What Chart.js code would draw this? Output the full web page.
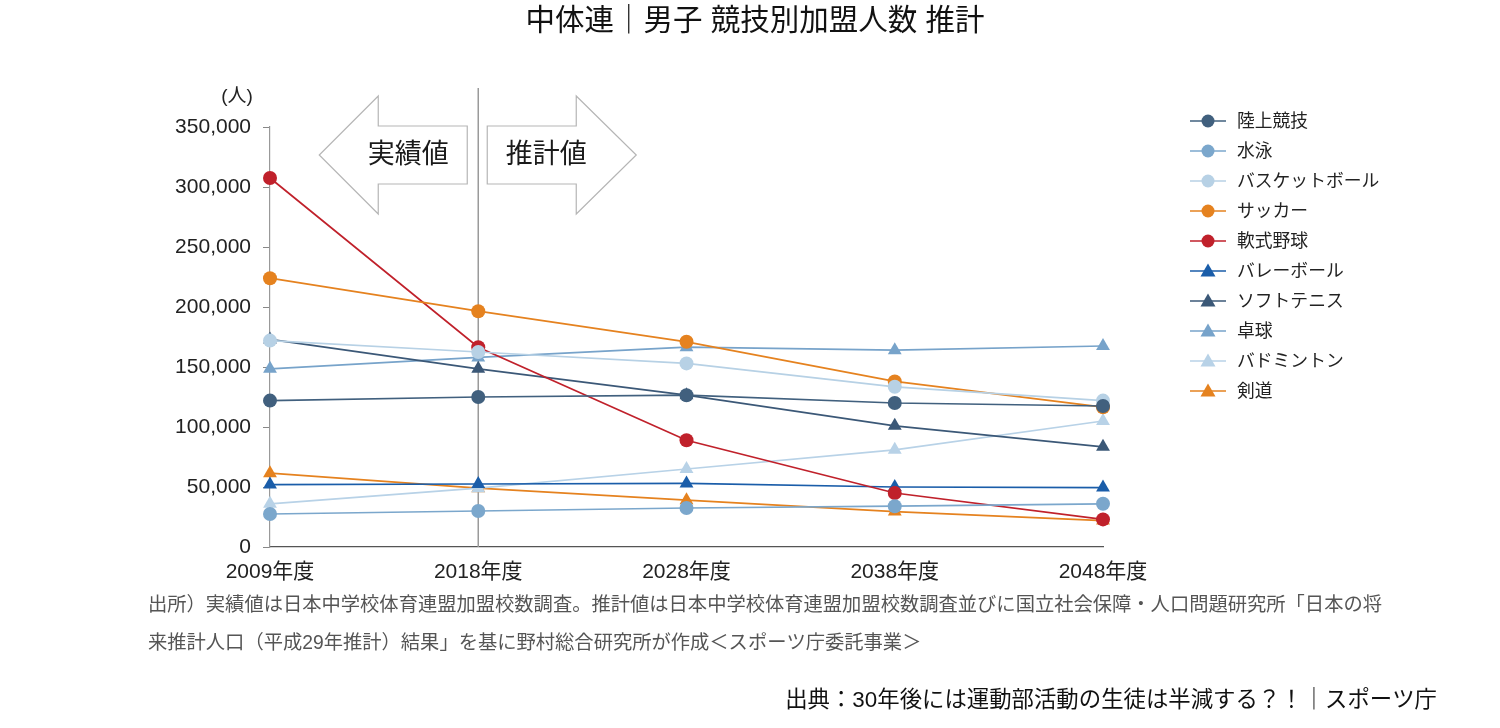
<!DOCTYPE html>
<html>
<head>
<meta charset="utf-8">
<script src="https://cdn.jsdelivr.net/npm/chart.js@4.4.1/dist/chart.umd.min.js"></script>
<style>
html,body{margin:0;padding:0;background:#fff;}
#wrap{width:1500px;height:728px;position:relative;}
</style>
</head>
<body>
<div id="wrap"><canvas id="c" width="1500" height="728"></canvas></div>
<script>
const categories = ["2009年度","2018年度","2028年度","2038年度","2048年度"];
const yTicks = [0,50000,100000,150000,200000,250000,300000,350000];

const rikujo     = [122000,125000,126500,120000,117500];
const suiei      = [27500,30000,32500,34000,36000];
const basket     = [172000,162500,153000,133500,122000];
const soccer     = [224000,196500,171000,138000,116500];
const nanshiki   = [307500,166500,89000,45000,23000];
const volley     = [52000,52500,53000,50000,49500];
const softtennis = [173000,148500,126500,101000,83500];
const takkyu     = [148500,158000,166500,164000,167500];
const badminton  = [36000,49000,65000,81000,105000];
const kendo      = [61500,49000,39000,29500,22000];

const seriesNames = ["陸上競技","水泳","バスケットボール","サッカー","軟式野球","バレーボール","ソフトテニス","卓球","バドミントン","剣道"];
const seriesData = [rikujo,suiei,basket,soccer,nanshiki,volley,softtennis,takkyu,badminton,kendo];
const seriesColors = ["#41607e","#7ba7cc","#b7d1e5","#e5821f","#c0212b","#1a5da9","#3b5877","#77a3ca","#b8d2e7","#e5821f"];
const seriesPoints = ["circle","circle","circle","circle","circle","triangle","triangle","triangle","triangle","triangle"];

const JP = '"Liberation Sans","Noto Sans CJK JP",sans-serif';

const datasets = seriesNames.map((n,i)=>({
  label:n,
  data:seriesData[i],
  borderColor:seriesColors[i],
  backgroundColor:seriesColors[i],
  pointBackgroundColor:seriesColors[i],
  pointBorderColor:seriesColors[i],
  pointStyle:seriesPoints[i],
  pointRadius: seriesPoints[i]==="circle"?7:8,
  pointBorderWidth:0,
  borderWidth:1.7,
  tension:0,
  fill:false
}));

const decor = {
  id:'decor',
  beforeDatasetsDraw(chart){
    const ctx = chart.ctx;
    const xs = chart.scales.x;
    const ca = chart.chartArea;
    const x18 = xs.getPixelForValue(1);
    ctx.save();
    ctx.strokeStyle = '#9a9a9a';
    ctx.lineWidth = 1.5;
    ctx.beginPath();
    ctx.moveTo(x18, ca.top-39);
    ctx.lineTo(x18, ca.bottom);
    ctx.stroke();
    const cy = ca.top + 28;
    ctx.strokeStyle = '#b5b5b5';
    ctx.lineWidth = 1.2;
    ctx.fillStyle = '#ffffff';
    let r = x18 - 11, bx = r - 89, tip = bx - 59;
    ctx.beginPath();
    ctx.moveTo(r, cy-29); ctx.lineTo(bx, cy-29); ctx.lineTo(bx, cy-59);
    ctx.lineTo(tip, cy); ctx.lineTo(bx, cy+59); ctx.lineTo(bx, cy+29);
    ctx.lineTo(r, cy+29); ctx.closePath();
    ctx.fill(); ctx.stroke();
    let l = x18 + 9, hx = l + 89, tip2 = hx + 60;
    ctx.beginPath();
    ctx.moveTo(l, cy-29); ctx.lineTo(hx, cy-29); ctx.lineTo(hx, cy-59);
    ctx.lineTo(tip2, cy); ctx.lineTo(hx, cy+59); ctx.lineTo(hx, cy+29);
    ctx.lineTo(l, cy+29); ctx.closePath();
    ctx.fill(); ctx.stroke();
    ctx.fillStyle = '#1a1a1a';
    ctx.font = '27px ' + JP;
    ctx.textBaseline = 'middle';
    ctx.textAlign = 'center';
    ctx.fillText('実績値', r - 59, cy + 1);
    ctx.fillText('推計値', l + 59, cy + 1);
    ctx.restore();
  },
  afterDraw(chart){
    const ctx = chart.ctx;
    const ca = chart.chartArea;
    ctx.save();
    ctx.textBaseline = 'middle';
    ctx.fillStyle = '#111';
    ctx.font = '29.5px ' + JP;
    ctx.textAlign = 'center';
    ctx.fillText('中体連｜男子 競技別加盟人数 推計', 755, 22);
    ctx.font = '19px ' + JP;
    ctx.fillStyle = '#222';
    ctx.fillText('(人)', 237, 97);
    const lx = ca.right + 87;
    chart.data.datasets.forEach((ds,i)=>{
      const y = 121 + i*30;
      ctx.strokeStyle = ds.borderColor;
      ctx.lineWidth = 1.7;
      ctx.beginPath(); ctx.moveTo(lx, y); ctx.lineTo(lx+36, y); ctx.stroke();
      ctx.fillStyle = ds.backgroundColor;
      const cx = lx + 18;
      ctx.beginPath();
      if (ds.pointStyle === 'circle') {
        ctx.arc(cx, y, 6.5, 0, Math.PI*2);
      } else {
        ctx.moveTo(cx, y-7.5); ctx.lineTo(cx+7.5, y+5.5); ctx.lineTo(cx-7.5, y+5.5); ctx.closePath();
      }
      ctx.fill();
      ctx.fillStyle = '#222';
      ctx.font = '17.8px ' + JP;
      ctx.textAlign = 'left';
      ctx.fillText(ds.label, lx + 47, y + 1);
    });
    ctx.fillStyle = '#555';
    ctx.font = '19.3px ' + JP;
    ctx.textAlign = 'left';
    ctx.fillText('出所）実績値は日本中学校体育連盟加盟校数調査。推計値は日本中学校体育連盟加盟校数調査並びに国立社会保障・人口問題研究所「日本の将', 148, 606);
    ctx.fillText('来推計人口（平成29年推計）結果」を基に野村総合研究所が作成＜スポーツ庁委託事業＞', 148, 644);
    ctx.fillStyle = '#111';
    ctx.font = '22.4px ' + JP;
    ctx.textAlign = 'right';
    ctx.fillText('出典：30年後には運動部活動の生徒は半減する？！｜スポーツ庁', 1437, 701);
    ctx.restore();
  }
};

new Chart(document.getElementById('c'), {
  type:'line',
  data:{labels:categories, datasets:datasets},
  options:{
    responsive:false,
    animation:false,
    layout:{padding:{left:150,right:397,top:127,bottom:0}},
    plugins:{legend:{display:false},title:{display:false},tooltip:{enabled:false}},
    scales:{
      x:{
        type:'category',
        offset:false,
        grid:{display:false},
        border:{display:true,color:'#555',width:1.2},
        ticks:{color:'#222',font:{size:21,family:JP},padding:5,maxRotation:0,autoSkip:false},
        afterFit(s){ s.height = 181; }
      },
      y:{
        min:0,max:350000,
        afterBuildTicks(s){ s.ticks = yTicks.map(v=>({value:v})); },
        grid:{display:true,drawOnChartArea:false,drawTicks:true,tickLength:7,color:'#888'},
        border:{display:true,color:'#999',width:1.2},
        ticks:{color:'#222',font:{size:21,family:JP},padding:12,
          callback:(v)=>v.toLocaleString('en-US')},
        afterFit(s){ s.width = 120; }
      }
    }
  },
  plugins:[decor]
});
</script>
</body>
</html>
